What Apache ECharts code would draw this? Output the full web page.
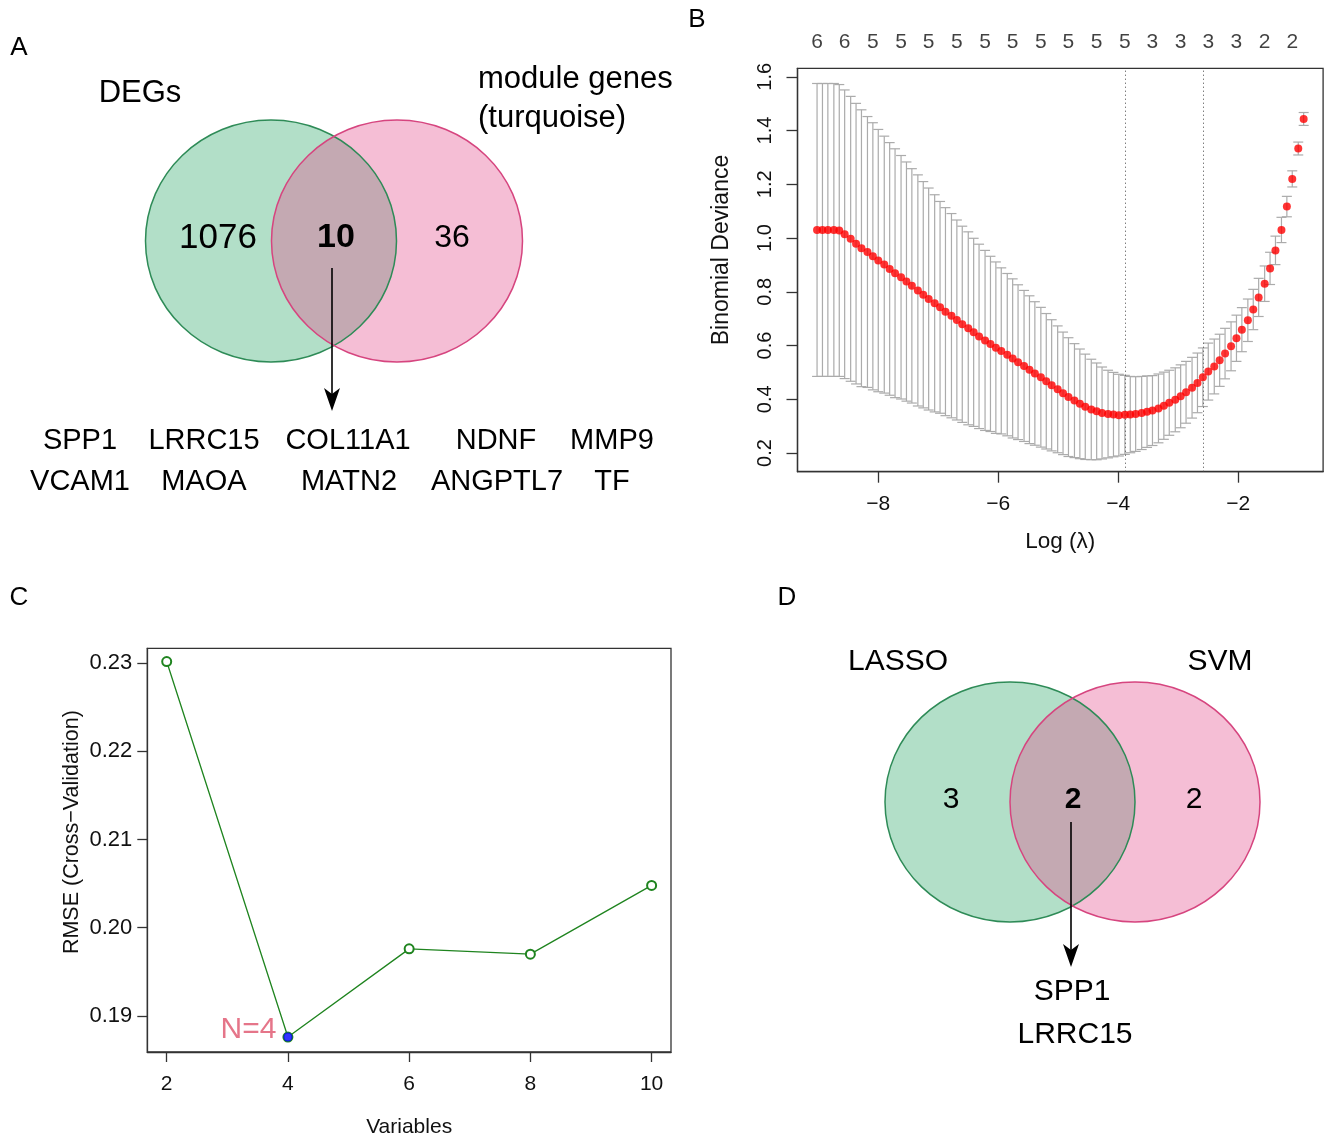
<!DOCTYPE html>
<html><head><meta charset="utf-8">
<script src="https://cdn.jsdelivr.net/npm/echarts@6/dist/echarts.min.js"></script>
<style>html,body{margin:0;padding:0;background:#fff}#c{width:1328px;height:1141px}</style>
</head><body><div id="c"></div>
<script>
// ---------- Panel B: LASSO cross-validation ----------
const logLambda = [-9.02,-8.93,-8.84,-8.74,-8.65,-8.56,-8.46,-8.37,-8.28,-8.18,-8.09,-8.00,-7.90,-7.81,-7.72,-7.62,-7.53,-7.44,-7.34,-7.25,-7.16,-7.06,-6.97,-6.88,-6.78,-6.69,-6.60,-6.50,-6.41,-6.32,-6.22,-6.13,-6.04,-5.95,-5.85,-5.76,-5.67,-5.57,-5.48,-5.39,-5.29,-5.20,-5.11,-5.01,-4.92,-4.83,-4.73,-4.64,-4.55,-4.45,-4.36,-4.27,-4.17,-4.08,-3.99,-3.89,-3.80,-3.71,-3.61,-3.52,-3.43,-3.33,-3.24,-3.15,-3.05,-2.96,-2.87,-2.77,-2.68,-2.59,-2.50,-2.40,-2.31,-2.22,-2.12,-2.03,-1.94,-1.84,-1.75,-1.66,-1.56,-1.47,-1.38,-1.28,-1.19,-1.10,-1.00,-0.91];
const cvMean = [1.030,1.030,1.030,1.030,1.028,1.014,0.997,0.979,0.962,0.948,0.932,0.916,0.901,0.885,0.869,0.854,0.838,0.822,0.805,0.789,0.773,0.757,0.742,0.726,0.711,0.695,0.679,0.664,0.649,0.634,0.619,0.606,0.592,0.580,0.566,0.552,0.538,0.524,0.510,0.496,0.482,0.467,0.452,0.437,0.422,0.408,0.395,0.383,0.372,0.362,0.355,0.349,0.345,0.343,0.341,0.342,0.343,0.345,0.349,0.354,0.358,0.366,0.376,0.387,0.398,0.411,0.426,0.443,0.461,0.482,0.503,0.522,0.545,0.570,0.597,0.627,0.659,0.694,0.734,0.779,0.830,0.887,0.954,1.030,1.117,1.220,1.333,1.443];
const cvSE = [0.545,0.545,0.545,0.545,0.543,0.537,0.530,0.522,0.515,0.504,0.497,0.488,0.478,0.470,0.463,0.453,0.445,0.436,0.430,0.421,0.413,0.404,0.394,0.387,0.380,0.372,0.365,0.359,0.350,0.343,0.335,0.326,0.319,0.309,0.302,0.296,0.288,0.281,0.275,0.267,0.260,0.252,0.244,0.236,0.228,0.221,0.212,0.204,0.196,0.187,0.180,0.171,0.163,0.157,0.152,0.147,0.142,0.139,0.136,0.133,0.130,0.128,0.125,0.121,0.119,0.117,0.115,0.113,0.111,0.109,0.106,0.102,0.097,0.094,0.091,0.086,0.082,0.079,0.075,0.071,0.066,0.060,0.053,0.047,0.038,0.030,0.024,0.024];
const lambdaMinIdx = 55;
const lambda1seIdx = 69;
const topLabelIdx = [0,5,10,15,20,25,30,35,40,45,50,55,60,65,70,75,80,85];
const nzLabels = [6,6,5,5,5,5,5,5,5,5,5,5,3,3,3,3,2,2];
const bXTicks = [-8,-6,-4,-2];
const bYTicks = [0.2,0.4,0.6,0.8,1.0,1.2,1.4,1.6];

// ---------- Panel C: SVM-RFE ----------
const rfeVariables = [2,4,6,8,10];
const rfeRMSE = [0.2302,0.1876,0.1976,0.1970,0.2048];
const rfeBestN = 4;
const cYTicks = [0.19,0.20,0.21,0.22,0.23];

// ---------- Panel A / D: Venn ----------
const vennASets = ['DEGs','module genes\n(turquoise)'];
const vennACounts = [1076,10,36];
const vennAGenes = ['SPP1','LRRC15','COL11A1','NDNF','MMP9','VCAM1','MAOA','MATN2','ANGPTL7','TF'];
const vennDSets = ['LASSO','SVM'];
const vennDCounts = [3,2,2];
const vennDGenes = ['SPP1','LRRC15'];

const FONT = '"Liberation Sans", Arial, Helvetica, sans-serif';
const AX = '#333';
const minus = v => (v < 0 ? '\u2212' : '') + Math.abs(v);

// ---- layout (positions only) ----
const geneAPos = [[80,441],[204,441],[348,441],[496,441],[612,441],[80,482],[204,482],[349,482],[497,482],[612,482]];
const geneDPos = [[1072,992],[1075,1035]];

function txt(text, x, y, size, opts) {
  opts = opts || {};
  return {type:'text', x:x, y:y, z:10, style:{text:text, fontSize:size, fontFamily:FONT,
    fontWeight:opts.bold?'bold':'normal', fill:opts.color||'#000',
    align:opts.align||'center', verticalAlign:'middle', lineHeight:opts.lh||size*1.3}};
}
function venn(cx1, cx2, cy, rx, ry) {
  return [
    {type:'ellipse', z:1, shape:{cx:cx1, cy:cy, rx:rx, ry:ry}, style:{fill:'#B2DFC8'}},
    {type:'ellipse', z:2, shape:{cx:cx2, cy:cy, rx:rx, ry:ry}, style:{fill:'rgba(228,77,140,0.365)'}},
    {type:'ellipse', z:3, shape:{cx:cx1, cy:cy, rx:rx, ry:ry}, style:{fill:null, stroke:'#2E8B57', lineWidth:1.5}},
    {type:'ellipse', z:3, shape:{cx:cx2, cy:cy, rx:rx, ry:ry}, style:{fill:null, stroke:'#D6457F', lineWidth:1.5}}
  ];
}
function arrow(x, y1, y2) {
  return [
    {type:'line', z:5, shape:{x1:x, y1:y1, x2:x, y2:y2-10}, style:{stroke:'#000', lineWidth:1.6}},
    {type:'polygon', z:5, shape:{points:[[x,y2],[x-8,y2-23],[x,y2-17],[x+8,y2-23]]}, style:{fill:'#000'}}
  ];
}

const graphics = [];
graphics.push(txt('A', 19, 48, 26), txt('B', 697, 20, 26), txt('C', 19, 598, 26), txt('D', 787, 598, 26));
// Panel A
graphics.push(...venn(271, 397, 241, 125.5, 121));
graphics.push(txt(vennASets[0], 140, 93, 31));
graphics.push(txt(vennASets[1], 478, 99, 31, {align:'left', lh:39}));
graphics.push(txt(String(vennACounts[0]), 218, 238, 35));
graphics.push(txt(String(vennACounts[1]), 336, 238, 34, {bold:true}));
graphics.push(txt(String(vennACounts[2]), 452, 238, 32));
graphics.push(...arrow(332, 268, 411));
vennAGenes.forEach((g, i) => graphics.push(txt(g, geneAPos[i][0], geneAPos[i][1], 29)));
// Panel D
graphics.push(...venn(1010, 1135, 802, 125, 120));
graphics.push(txt(vennDSets[0], 898, 662, 30), txt(vennDSets[1], 1220, 662, 30));
graphics.push(txt(String(vennDCounts[0]), 951, 800, 30));
graphics.push(txt(String(vennDCounts[1]), 1073, 800, 30, {bold:true}));
graphics.push(txt(String(vennDCounts[2]), 1194, 800, 30));
graphics.push(...arrow(1071, 822, 967));
vennDGenes.forEach((g, i) => graphics.push(txt(g, geneDPos[i][0], geneDPos[i][1], 30)));

// ---- data built from arrays ----
const bMin = -9.346, bMax = -0.586, bYMin = 0.1305, bYMax = 1.6315;
const errData = logLambda.map((x, i) => [x, cvMean[i] - cvSE[i], cvMean[i] + cvSE[i]]);
const meanData = logLambda.map((x, i) => [x, cvMean[i]]);
const topData = topLabelIdx.map((idx, k) => ({value:[logLambda[idx], bYMax], nz:nzLabels[k]}));
const rfeData = rfeVariables.map((v, i) => [v, rfeRMSE[i]]);
const bestIdx = rfeVariables.indexOf(rfeBestN);

const lineAx = {show:true, lineStyle:{color:AX, width:1.3}};
const lab = (size, extra) => Object.assign({fontFamily:FONT, fontSize:size, color:'#111'}, extra);

const chart = echarts.init(document.getElementById('c'), null, {renderer:'canvas'});
chart.setOption({
  animation:false,
  backgroundColor:'#fff',
  graphic: graphics,
  grid:[
    {left:797.5, top:68.3, width:525.6, height:403.4, show:true, borderColor:AX, borderWidth:1.3, backgroundColor:'transparent'},
    {left:147.3, top:648.3, width:523.7, height:403.7, show:true, borderColor:AX, borderWidth:1.3, backgroundColor:'transparent'}
  ],
  xAxis:[
    {type:'value', gridIndex:0, min:bMin, max:bMax, splitLine:{show:false}, axisLine:lineAx,
      name:'Log (\u03bb)', nameLocation:'middle', nameGap:59, nameTextStyle:lab(22.5),
      axisLabel:lab(21, {margin:22, customValues:bXTicks, formatter:minus}),
      axisTick:{show:true, length:11, lineStyle:{color:AX, width:1.3}, customValues:bXTicks}},
    {type:'value', gridIndex:1, min:1.68, max:10.32, splitLine:{show:false}, axisLine:lineAx,
      name:'Variables', nameLocation:'middle', nameGap:65, nameTextStyle:lab(21),
      axisLabel:lab(21, {margin:22, customValues:rfeVariables}),
      axisTick:{show:true, length:10, lineStyle:{color:AX, width:1.3}, customValues:rfeVariables}}
  ],
  yAxis:[
    {type:'value', gridIndex:0, min:bYMin, max:bYMax, splitLine:{show:false}, axisLine:lineAx,
      name:'Binomial Deviance', nameLocation:'middle', nameGap:64, nameRotate:90,
      nameTextStyle:lab(23, {padding:[0,0,0,40]}),
      axisLabel:lab(20, {margin:22, rotate:90, customValues:bYTicks, formatter:v=>v.toFixed(1)}),
      axisTick:{show:true, length:11, lineStyle:{color:AX, width:1.3}, customValues:bYTicks}},
    {type:'value', gridIndex:1, min:0.1859, max:0.2317, splitLine:{show:false}, axisLine:lineAx,
      name:'RMSE (Cross\u2212Validation)', nameLocation:'middle', nameGap:64, nameRotate:90,
      nameTextStyle:lab(21.5, {padding:[0,0,0,36]}),
      axisLabel:lab(22, {margin:15, customValues:cYTicks, formatter:v=>v.toFixed(2)}),
      axisTick:{show:true, length:10, lineStyle:{color:AX, width:1.3}, customValues:cYTicks}}
  ],
  series:[
    {type:'custom', xAxisIndex:0, yAxisIndex:0, data:errData, encode:{x:0, y:[1,2]}, silent:true,
      renderItem:(params, api) => {
        const x = api.value(0), lo = api.value(1), hi = api.value(2);
        const p1 = api.coord([x, hi]), p2 = api.coord([x, lo]);
        const w = 5, st = {stroke:'#ABABAB', lineWidth:1.2, fill:null};
        return {type:'group', children:[
          {type:'line', shape:{x1:p1[0], y1:p1[1], x2:p2[0], y2:p2[1]}, style:st},
          {type:'line', shape:{x1:p1[0]-w, y1:p1[1], x2:p1[0]+w, y2:p1[1]}, style:st},
          {type:'line', shape:{x1:p2[0]-w, y1:p2[1], x2:p2[0]+w, y2:p2[1]}, style:st}
        ]};
      }},
    {type:'scatter', xAxisIndex:0, yAxisIndex:0, data:meanData, symbol:'circle', symbolSize:8,
      itemStyle:{color:'#FF0000'}, silent:true, z:5,
      markLine:{silent:true, symbol:['none','none'], label:{show:false},
        lineStyle:{color:'#444', width:1, type:[1,3]},
        data:[{xAxis:logLambda[lambdaMinIdx]}, {xAxis:logLambda[lambda1seIdx]}]}},
    {type:'scatter', xAxisIndex:0, yAxisIndex:0, data:topData, symbolSize:1, clip:false,
      itemStyle:{color:'transparent'}, silent:true,
      label:{show:true, position:'top', distance:15, formatter:p=>String(p.data.nz),
        fontFamily:FONT, fontSize:21, color:'#111'}},
    {type:'line', xAxisIndex:1, yAxisIndex:1, data:rfeData, symbol:'emptyCircle', symbolSize:9,
      lineStyle:{color:'#1F841F', width:1.3}, itemStyle:{color:'#1F841F', borderWidth:1.3}, silent:true},
    {type:'scatter', xAxisIndex:1, yAxisIndex:1, data:[rfeData[bestIdx]], symbol:'circle', symbolSize:9,
      itemStyle:{color:'#0000FF'}, z:6, silent:true,
      label:{show:true, position:'left', distance:7, offset:[0,-7], formatter:'N=' + rfeBestN,
        fontFamily:FONT, fontSize:30, color:'#DF536B'}}
  ]
});
</script>
</body></html>
